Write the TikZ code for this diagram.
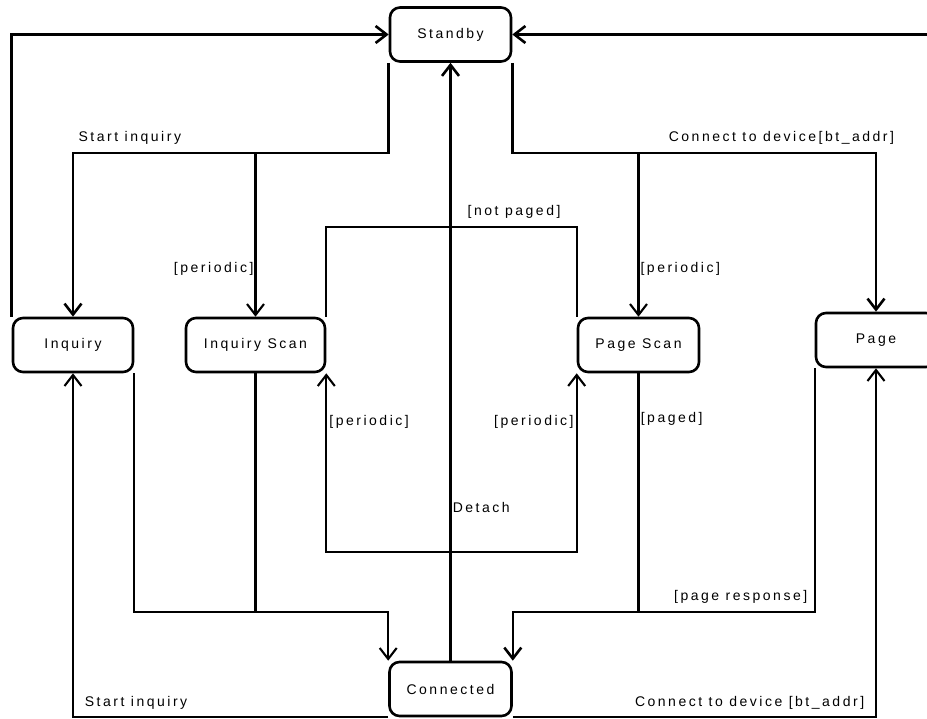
\documentclass[tikz,border=0pt]{standalone}
\usepackage{fontspec}
\setmainfont[LetterSpace=18]{Liberation Sans}
\usetikzlibrary{arrows.meta}

\begin{document}
\begin{tikzpicture}[x=1pt, y=-1pt, line width=2.6pt, font=\fontsize{14pt}{16pt}\selectfont,
    main/.style = {draw, rounded corners=10pt, minimum height=54pt},
    go/.style = {-{Straight Barb[length=11pt,width=17pt]}},
    slim/.style = {line width=2.1pt},
    tag/.style = {above=4pt}]
    \useasboundingbox (0,0) rectangle (927,719);
    \clip (0,0) rectangle (927,719);
    % states
    \node[main, minimum width=121pt] (standby) at (450.5,34.5) {Standby};
    \node[main, minimum width=120pt] (inq) at (73,345) {Inquiry};
    \node[main, minimum width=139pt] (inqscan) at (255.5,345) {Inquiry Scan};
    \node[main, minimum width=121pt] (pscan) at (638.5,345) {Page Scan};
    \node[main, minimum width=120pt] (page) at (876,340) {Page};
    \node[main, minimum width=122pt] (conn) at (450.5,689) {Connected};
    \coordinate (top) at (0,153);
    \coordinate (mid) at (0,227);
    \coordinate (low) at (0,552);
    \coordinate (bot) at (0,612);
    % back to standby
    \draw[go] (inq.north west) |- (standby.west);
    \draw[go] (page.north east) |- (standby.east);
    \draw[go] (conn.north) -- node[right, inner sep=1pt, pos=0.257] {Detach} (standby.south);
    % leaving standby
    \draw[go] (standby.south west) |- node[tag, pos=0.91] {Start inquiry} (inq.north |- top) -- (inq.north);
    \draw[go, slim] (inqscan.north |- top) -- node[left, inner sep=1pt, pos=0.71] {[periodic]} (inqscan.north);
    \draw[go] (standby.south east) |- node[tag, pos=0.87] {Connect to device[bt\_addr]} (page.north |- top) -- (page.north);
    \draw[go, slim] (pscan.north |- top) -- node[right, inner sep=1pt, pos=0.71] {[periodic]} (pscan.north);
    % between the scans
    \draw[slim] (inqscan.north east) -- (inqscan.north east |- mid) -| node[tag, pos=0.375] {[not paged]} (pscan.north west);
    \draw[{Straight Barb[length=11pt,width=17pt]}-{Straight Barb[length=11pt,width=17pt]}, slim]
        (inqscan.south east) -- node[right, inner sep=2pt, pos=0.27] {[periodic]} (inqscan.south east |- low)
        -- (pscan.south west |- low) -- node[left, inner sep=2pt, pos=0.73] {[periodic]} (pscan.south west);
    % into connected
    \draw[slim] (inq.south east) |- (inqscan.south |- bot);
    \draw[go, slim] (inqscan.south) |- (conn.north west |- bot) -- (conn.north west);
    \draw[go] (pscan.south) |- node[right, inner sep=1pt, pos=0.095] {[paged]} (conn.north east |- bot) -- (conn.north east);
    \draw[slim] (page.south west) |- node[tag, pos=0.71] {[page response]} (pscan.south |- bot);
    % leaving connected
    \draw[go, slim] (conn.south west) -| node[tag, pos=0.4] {Start inquiry} (inq.south);
    \draw[go, slim] (conn.south east) -| node[tag, pos=0.326] {Connect to device [bt\_addr]} (page.south);
\end{tikzpicture}
\end{document}
